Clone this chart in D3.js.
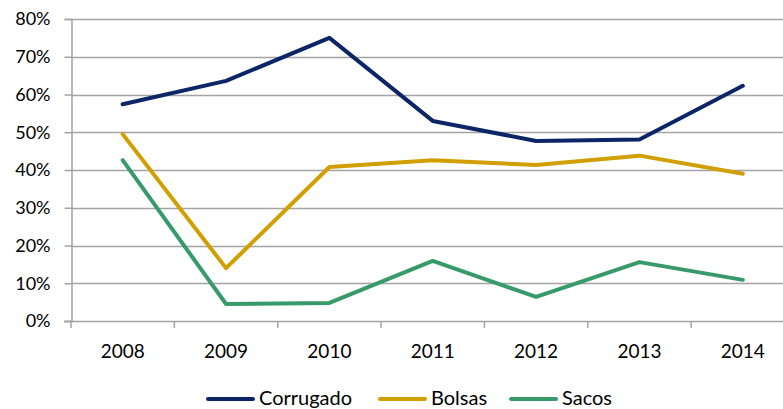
<!DOCTYPE html>
<html>
<head>
<meta charset="utf-8">
<script src="https://cdn.jsdelivr.net/npm/d3@7"></script>
<style>
  html, body { margin: 0; padding: 0; background: #fff; overflow: hidden; }
  svg { display: block; font-family: Lato, "Open Sans", sans-serif; }
</style>
</head>
<body>
<div id="chart"></div>
<script>
const years = ['2008', '2009', '2010', '2011', '2012', '2013', '2014'];
const corrugado = [0.574, 0.636, 0.750, 0.530, 0.477, 0.481, 0.623];
const bolsas    = [0.495, 0.140, 0.408, 0.426, 0.413, 0.438, 0.390];
const sacos     = [0.426, 0.045, 0.048, 0.159, 0.064, 0.156, 0.109];
const yTicks = [0, 0.1, 0.2, 0.3, 0.4, 0.5, 0.6, 0.7, 0.8];

const series = [
  { name: 'Corrugado', values: corrugado, color: '#0b2566' },
  { name: 'Bolsas',    values: bolsas,    color: '#d29f00' },
  { name: 'Sacos',     values: sacos,     color: '#379a6a' }
];

const width = 783, height = 409;
const svg = d3.select('#chart').append('svg')
  .attr('width', width).attr('height', height);

// plot area runs past the right edge, as in the original crop
const x = d3.scaleBand().domain(years).range([71, 794.5]);
const y = d3.scaleLinear().domain([0, 0.8]).range([321, 19]);

// gridlines
svg.append('g').selectAll('line')
  .data(yTicks.filter(d => d > 0))
  .join('line')
  .attr('x1', 71).attr('x2', 794.5)
  .attr('y1', d => Math.round(y(d)) + 0.5).attr('y2', d => Math.round(y(d)) + 0.5)
  .attr('stroke', '#a3a3a3').attr('stroke-width', 1.5);

// y axis
const yAxis = svg.append('g').attr('transform', 'translate(71.5,0)')
  .call(d3.axisLeft(y).tickValues(yTicks).tickFormat(d3.format('.0%')).tickSize(7).tickPadding(14));
yAxis.select('.domain').attr('stroke', '#a3a3a3').attr('stroke-width', 1.5);
yAxis.selectAll('.tick line').attr('stroke', '#a3a3a3').attr('stroke-width', 1.5);
yAxis.selectAll('text').attr('font-size', 18).attr('fill', '#000').attr('font-family', 'Lato, sans-serif');

// x axis
const xTicks = d3.range(years.length + 1).map(i => 71 + i * x.step());
svg.append('line')
  .attr('x1', 64).attr('x2', 794.5).attr('y1', 321.5).attr('y2', 321.5)
  .attr('stroke', '#a3a3a3').attr('stroke-width', 1.5);
svg.append('g').selectAll('line').data(xTicks).join('line')
  .attr('x1', d => d).attr('x2', d => d).attr('y1', 321).attr('y2', 328)
  .attr('stroke', '#a3a3a3').attr('stroke-width', 1.5);
svg.append('g').selectAll('text').data(years).join('text')
  .attr('x', d => x(d) + x.bandwidth() / 2).attr('y', 358)
  .attr('text-anchor', 'middle').attr('font-size', 19).attr('fill', '#000')
  .text(d => d);

// lines
const line = d3.line()
  .x((d, i) => x(years[i]) + x.bandwidth() / 2)
  .y(d => y(d));
svg.append('g').selectAll('path').data(series).join('path')
  .attr('d', d => line(d.values))
  .attr('fill', 'none').attr('stroke', d => d.color)
  .attr('stroke-width', 4).attr('stroke-linecap', 'round').attr('stroke-linejoin', 'round');

// legend
const legendX = [208, 380, 511];
const lg = svg.append('g').selectAll('g').data(series).join('g')
  .attr('transform', (d, i) => `translate(${legendX[i]},399)`);
lg.append('line').attr('x1', 0).attr('x2', 45).attr('y1', 0).attr('y2', 0)
  .attr('stroke', d => d.color).attr('stroke-width', 4).attr('stroke-linecap', 'round');
lg.append('text').attr('x', 51).attr('y', 6).attr('font-size', 20).attr('fill', '#000')
  .text(d => d.name);
</script>
</body>
</html>
